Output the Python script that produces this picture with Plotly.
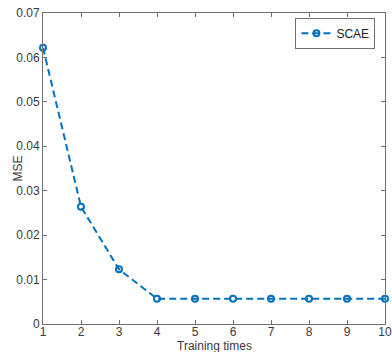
import plotly.graph_objects as go

training_times = [1, 2, 3, 4, 5, 6, 7, 8, 9, 10]
mse_scae = [0.0622, 0.0264, 0.0123, 0.0057, 0.0057, 0.0057, 0.0057, 0.0057, 0.0057, 0.0057]
y_ticks = [0, 0.01, 0.02, 0.03, 0.04, 0.05, 0.06, 0.07]
y_tick_text = ["0", "0.01", "0.02", "0.03", "0.04", "0.05", "0.06", "0.07"]
x_title = "Training times"
y_title = "MSE"

blue = "#0072BD"
axis_col = "#707070"
text_col = "#3a3a3a"
font = "Liberation Sans, Arial, sans-serif"

fig = go.Figure()
fig.add_trace(go.Scatter(
    x=training_times, y=mse_scae, name="SCAE", mode="lines+markers",
    line=dict(color=blue, width=2, dash="7px,4px"),
    marker=dict(symbol="circle-open", size=6, color=blue, line=dict(width=2, color=blue)),
    cliponaxis=False,
))

fig.update_layout(
    width=392, height=352,
    margin=dict(l=43, r=7, t=13, b=28),
    paper_bgcolor="white", plot_bgcolor="white",
    font=dict(family=font, size=12, color=text_col),
    showlegend=True,
    legend=dict(x=0.972, y=0.985, xanchor="right", yanchor="top",
                bordercolor=axis_col, borderwidth=1, bgcolor="white",
                itemwidth=30, tracegroupgap=0,
                font=dict(size=12, color="#222222")),
    xaxis=dict(range=[1, 10], tickmode="array", tickvals=training_times,
               ticks="inside", ticklen=4, tickcolor=axis_col,
               showline=True, linecolor=axis_col, linewidth=1, mirror="allticks",
               showgrid=False, zeroline=False, automargin=False,
               ticklabeloverflow="allow", ticklabelstandoff=-3,
               tickfont=dict(size=12, color=text_col)),
    yaxis=dict(range=[0, 0.07], tickmode="array", tickvals=y_ticks, ticktext=y_tick_text,
               ticks="inside", ticklen=4, tickcolor=axis_col,
               showline=True, linecolor=axis_col, linewidth=1, mirror="allticks",
               showgrid=False, zeroline=False, automargin=False,
               ticklabeloverflow="allow",
               tickfont=dict(size=12, color=text_col)),
    annotations=[
        dict(text=x_title, xref="paper", yref="paper", x=0.5, y=-0.071,
             xanchor="center", yanchor="middle", showarrow=False,
             font=dict(size=12, color=text_col)),
        dict(text=y_title, xref="paper", yref="paper", x=-0.076, y=0.5, textangle=-90,
             xanchor="center", yanchor="middle", showarrow=False,
             font=dict(size=12, color=text_col)),
    ],
)

# remove the browser's default 8px body margin so the 392x352 figure fills the window
fig.write_html(
    "out.html",
    config={"displayModeBar": False},
    post_script="document.body.style.margin='0';document.documentElement.style.overflow='hidden';",
)
